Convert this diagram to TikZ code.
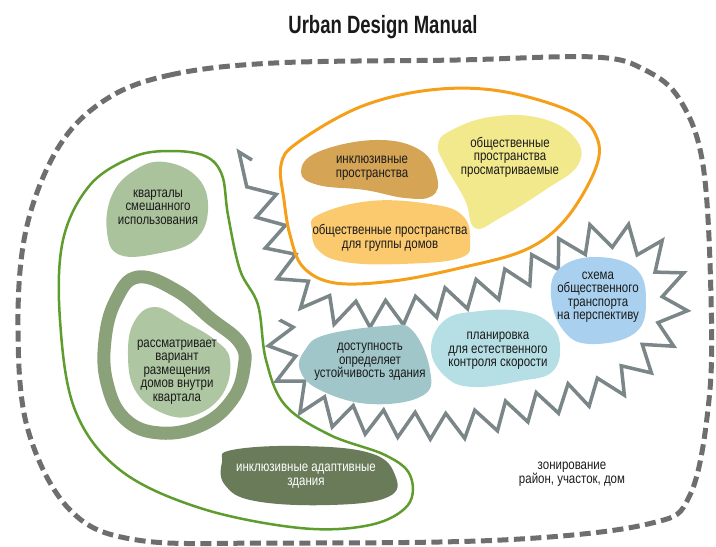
\documentclass[tikz,border=0pt]{standalone}
\usepackage{fontspec}
\usepackage{xcolor}
\usetikzlibrary{decorations.pathmorphing}
\newfontfamily\narrowfont[FakeStretch=0.82]{Liberation Sans}
\newfontfamily\headfont[FakeStretch=0.74]{Liberation Sans}
\definecolor{Ink}{HTML}{1A1A1A}
\definecolor{Dash}{HTML}{6E6E6E}
\definecolor{Leaf}{HTML}{5E9C2E}
\definecolor{Amber}{HTML}{F5A01A}
\definecolor{Saw}{HTML}{7B8689}
\definecolor{Sage}{HTML}{ABC39C}
\definecolor{SageRing}{HTML}{8AA17A}
\definecolor{SageIn}{HTML}{AEC6A2}
\definecolor{Moss}{HTML}{6A7B5A}
\definecolor{Ochre}{HTML}{D5A455}
\definecolor{Butter}{HTML}{F1E98B}
\definecolor{Apricot}{HTML}{FCCA6E}
\definecolor{Teal}{HTML}{A1C6C9}
\definecolor{Aqua}{HTML}{B6DFE5}
\definecolor{Sky}{HTML}{A9D1EF}

\begin{document}
\begin{tikzpicture}[x=1pt,y=-1pt,
  lbl/.style={align=center,text=Ink,inner sep=0pt,
    font={\narrowfont\fontsize{14}{13.5}\selectfont}},
  outline/.style={line width=2.5pt,line join=round}]
  \useasboundingbox (0,0) rectangle (716,547);
  % title
  \node[anchor=base,text=Ink,font={\headfont\bfseries\fontsize{25}{25}\selectfont}]
    (title) at (383,33) {Urban Design Manual};
  % outer dashed zone
  \draw[Dash,line width=5pt,dash pattern=on 11pt off 5.5pt]
    plot[smooth cycle,tension=0.6] coordinates {(105,100) (170,75) (274,63)
    (457,60) (594,57) (645,70) (680,100) (703,165) (711,297) (709,400)
    (690,495) (648,524) (502,540) (274,543) (137,540) (70,510) (28,430)
    (18,330) (26,230) (58,148)};
  % green group
  \draw[Leaf,outline] plot[smooth cycle,tension=0.6] coordinates {(90,185)
    (133,157) (170,151) (205,156) (222,175) (228,215) (240,270) (258,305)
    (266,360) (285,405) (330,435) (385,455) (410,475) (408,505) (370,525)
    (300,528) (200,508) (120,470) (75,410) (60,320) (63,240)};
  % zigzag zone
  \draw[Saw,line width=3.5pt,line join=miter,decorate,
    decoration={zigzag,segment length=32pt,amplitude=13pt}]
    plot[smooth,tension=0.6] coordinates {(252,160) (266,205) (280,250)
    (300,290) (340,312) (400,312) (450,300) (500,285) (540,265) (575,245)
    (610,235) (650,248) (672,280) (672,320) (650,355) (615,385) (565,398)
    (515,412) (465,425) (410,425) (350,418) (305,400) (285,365) (280,320)};
  % orange group
  \draw[Amber,outline,line width=3pt] plot[smooth cycle,tension=0.6]
    coordinates {(281,165) (297,143) (360,107) (430,90) (500,91) (572,112)
    (597,138) (595,170) (565,220) (525,250) (460,268) (393,281) (335,283)
    (303,267) (290,235) (284,200)};
  % blobs
  \fill[Sage] plot[smooth cycle,tension=0.7] coordinates {(165,162) (198,178)
    (208,210) (195,240) (160,253) (120,255) (107,232) (112,195) (135,170)};
  \draw[SageRing,line width=13pt] plot[smooth cycle,tension=0.7]
    coordinates {(138,277) (177,291) (210,318) (240,343) (244,368) (232,400)
    (202,425) (160,433) (125,419) (107,383) (105,340) (116,300)};
  \fill[SageIn] plot[smooth cycle,tension=0.7] coordinates {(155,307) (185,322)
    (215,340) (230,360) (222,395) (192,416) (160,412) (135,390) (128,355)
    (134,322)};
  \fill[Moss] plot[smooth cycle,tension=0.7] coordinates {(232,450) (300,446)
    (370,453) (395,475) (388,497) (330,505) (255,501) (225,485) (222,462)};
  \fill[Ochre] plot[smooth cycle,tension=0.7] coordinates {(301,172) (318,152)
    (375,140) (420,150) (437,177) (432,196) (405,198) (365,190) (318,185)};
  \fill[Butter] plot[smooth cycle,tension=0.7] coordinates {(450,131) (490,117)
    (540,118) (575,138) (578,165) (545,190) (500,218) (475,228) (465,200)
    (445,165) (438,145)};
  \fill[Apricot] plot[smooth cycle,tension=0.7] coordinates {(318,215) (370,201)
    (430,204) (462,215) (470,240) (460,258) (400,264) (345,262) (318,250)
    (312,230)};
  \fill[Teal] plot[smooth cycle,tension=0.7] coordinates {(325,335) (385,326)
    (412,330) (430,370) (422,396) (370,404) (320,390) (300,370) (305,350)};
  \fill[Aqua] plot[smooth cycle,tension=0.7] coordinates {(445,320) (480,311)
    (520,311) (548,322) (560,345) (552,372) (520,381) (475,387) (447,378)
    (431,350)};
  \fill[Sky] plot[smooth cycle,tension=0.7] coordinates {(560,268) (595,257)
    (635,268) (646,300) (635,333) (590,344) (563,330) (551,295)};
  % labels
  \node[lbl] (mixed) at (158,207) {кварталы\\смешанного\\использования};
  \node[lbl] (layout) at (177,372) {рассматривает\\вариант\\размещения\\домов внутри\\квартала};
  \node[lbl,text=white] (adaptive) at (306,476) {инклюзивные адаптивные\\здания};
  \node[lbl] (inclusive) at (372,168) {инклюзивные\\пространства};
  \node[lbl] (visible) at (510,157) {общественные\\пространства\\просматриваемые};
  \node[lbl] (shared) at (390,238) {общественные пространства\\для группы домов};
  \node[lbl] (access) at (370,362) {доступность\\определяет\\устойчивость здания};
  \node[lbl] (speed) at (498,351) {планировка\\для естественного\\контроля скорости};
  \node[lbl] (transit) at (598,297) {схема\\общественного\\транспорта\\на перспективу};
  \node[lbl] (zoning) at (572,474) {зонирование\\район, участок, дом};
\end{tikzpicture}
\end{document}
